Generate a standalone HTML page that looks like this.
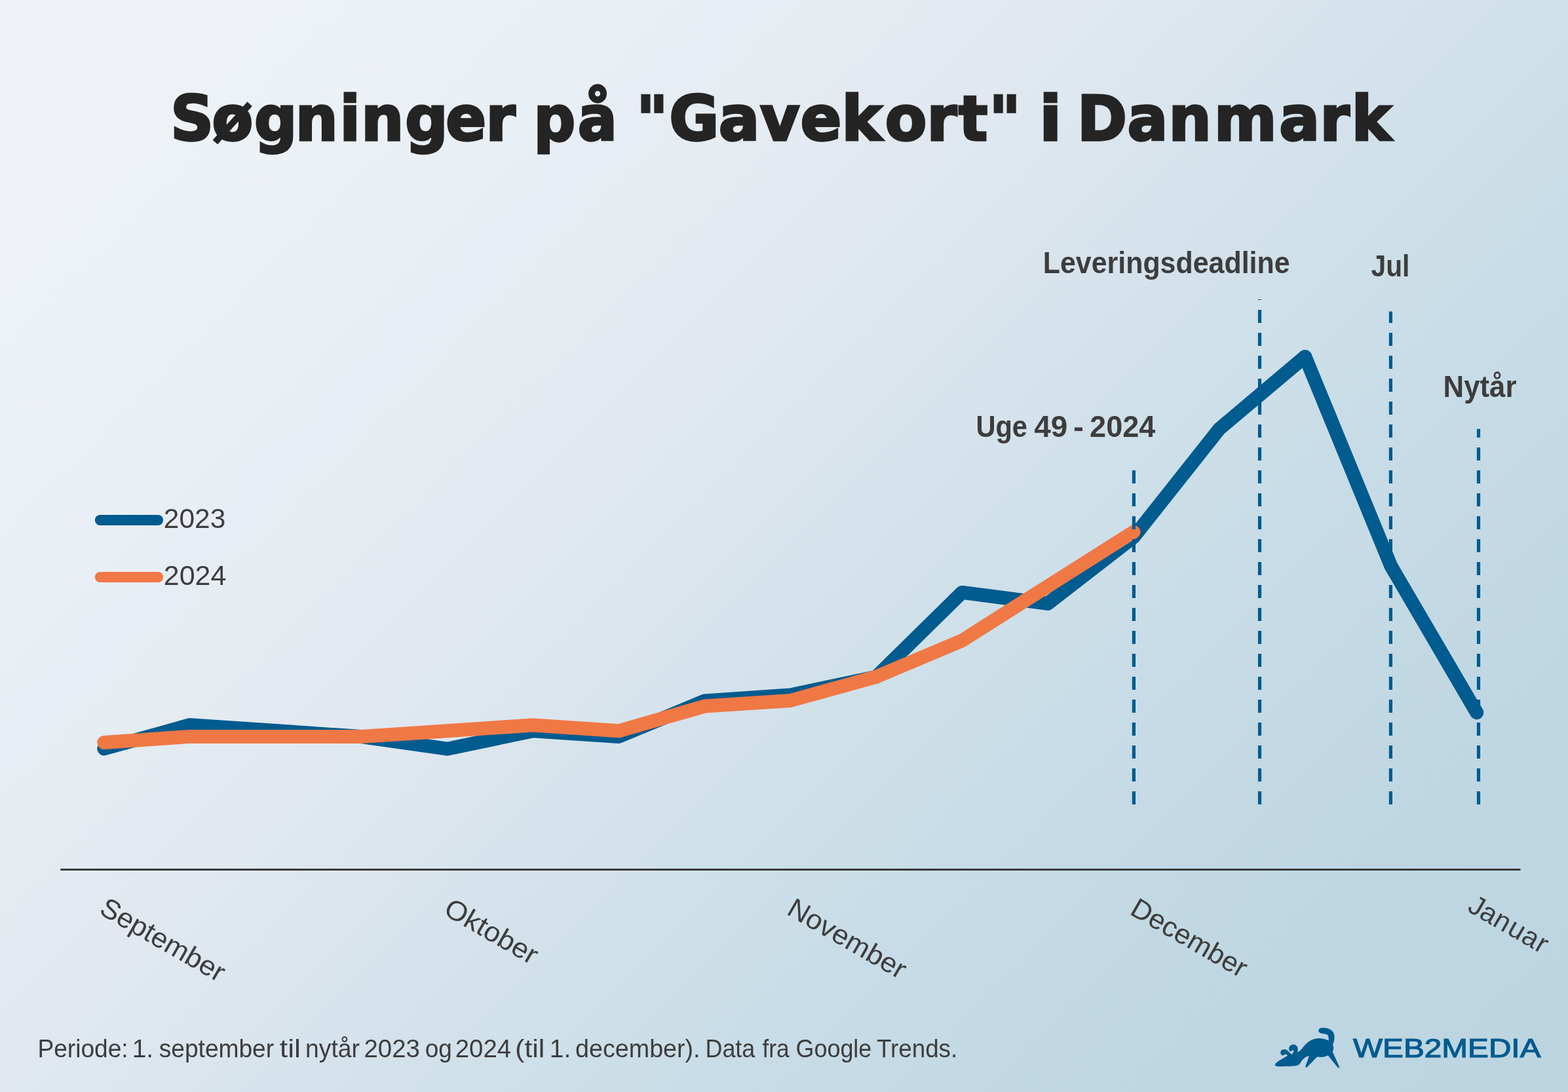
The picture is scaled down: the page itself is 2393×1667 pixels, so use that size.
<!DOCTYPE html>
<html lang="da">
<head>
<meta charset="utf-8">
<title>Søgninger på "Gavekort" i Danmark</title>
<style>
html,body{margin:0;padding:0;background:#d9e5ed;}
html{width:2393px;height:1667px;}
body{width:2393px;height:1667px;font-family:"Liberation Sans",sans-serif;}
svg{display:block;}
</style>
</head>
<body>
<svg width="2393" height="1667" viewBox="0 0 2393 1667" role="img" aria-label="Søgninger på Gavekort i Danmark">
<defs>
<linearGradient id="bg" gradientUnits="userSpaceOnUse" x1="0" y1="0" x2="2030" y2="2030">
<stop offset="0.00" stop-color="rgb(239,243,248)"/>
<stop offset="0.04" stop-color="rgb(239,243,248)"/>
<stop offset="0.08" stop-color="rgb(238,242,248)"/>
<stop offset="0.12" stop-color="rgb(237,242,247)"/>
<stop offset="0.16" stop-color="rgb(236,241,246)"/>
<stop offset="0.20" stop-color="rgb(234,240,246)"/>
<stop offset="0.24" stop-color="rgb(232,239,245)"/>
<stop offset="0.28" stop-color="rgb(231,237,244)"/>
<stop offset="0.32" stop-color="rgb(229,236,242)"/>
<stop offset="0.36" stop-color="rgb(227,234,241)"/>
<stop offset="0.40" stop-color="rgb(225,232,240)"/>
<stop offset="0.44" stop-color="rgb(222,231,239)"/>
<stop offset="0.48" stop-color="rgb(218,229,237)"/>
<stop offset="0.52" stop-color="rgb(214,227,236)"/>
<stop offset="0.56" stop-color="rgb(210,225,234)"/>
<stop offset="0.60" stop-color="rgb(206,224,233)"/>
<stop offset="0.64" stop-color="rgb(203,222,232)"/>
<stop offset="0.68" stop-color="rgb(200,220,231)"/>
<stop offset="0.72" stop-color="rgb(198,219,229)"/>
<stop offset="0.76" stop-color="rgb(195,217,228)"/>
<stop offset="0.80" stop-color="rgb(193,216,227)"/>
<stop offset="0.84" stop-color="rgb(191,215,227)"/>
<stop offset="0.88" stop-color="rgb(190,214,226)"/>
<stop offset="0.92" stop-color="rgb(189,214,225)"/>
<stop offset="0.96" stop-color="rgb(188,213,225)"/>
<stop offset="1.00" stop-color="rgb(188,213,225)"/>
</linearGradient>
</defs>
<rect width="2393" height="1667" fill="url(#bg)"/>
<!-- title -->
<g font-family="'DejaVu Sans', 'Liberation Sans', sans-serif" font-size="93.6" font-weight="bold" fill="#242424" stroke="#242424" stroke-width="3.4" stroke-linejoin="miter" stroke-miterlimit="3"><text transform="translate(0 213.90) scale(0.9758 1)" x="266.71 331.55 397.71 462.01 531.47 565.06 633.47 697.06 759.85" y="0">Søgninger</text>
<text transform="translate(0 213.90) scale(0.9498 1)" x="857.46 928.28" y="0">på</text>
<text transform="translate(0 213.90) scale(0.9902 1)" x="980.75 1031.45 1107.74 1171.50 1233.50 1297.26 1364.19 1428.55 1477.40 1524.54" y="0">&quot;Gavekort&quot;</text>
<text transform="translate(0 213.90) scale(1.0562 1)" x="1501.75" y="0">i</text>
<text transform="translate(0 213.90) scale(0.9782 1)" x="1680.63 1758.76 1823.30 1894.39 1995.71 2059.52 2108.75" y="0">Danmark</text></g>
<!-- annotation labels -->
<text y="417.4" font-family="'Liberation Sans', sans-serif" font-size="46.8" font-weight="bold" fill="#3d3d3d"><tspan x="1591.71" textLength="376.93" lengthAdjust="spacingAndGlyphs">Leveringsdeadline</tspan></text>
<text y="422.4" font-family="'Liberation Sans', sans-serif" font-size="45.5" font-weight="bold" fill="#3d3d3d"><tspan x="2092.59" textLength="58.86" lengthAdjust="spacingAndGlyphs">Jul</tspan></text>
<text y="606.3" font-family="'Liberation Sans', sans-serif" font-size="45.5" font-weight="bold" fill="#3d3d3d"><tspan x="2202.56" textLength="111.87" lengthAdjust="spacingAndGlyphs">Nytår</tspan></text>
<text y="666.9" font-family="'Liberation Sans', sans-serif" font-size="45.8" font-weight="bold" fill="#3d3d3d"><tspan x="1489.4" textLength="78.62" lengthAdjust="spacingAndGlyphs">Uge</tspan> <tspan x="1578.31" textLength="51.0" lengthAdjust="spacingAndGlyphs">49</tspan> <tspan x="1638.09" textLength="15.93" lengthAdjust="spacingAndGlyphs">-</tspan> <tspan x="1663.12" textLength="100.18" lengthAdjust="spacingAndGlyphs">2024</tspan></text>
<!-- data series: 2023 (blue) and 2024 (orange) -->
<polyline points="158.8,1143.0 289.7,1106.7 420.7,1115.6 551.6,1124.5 682.5,1143.2 813.5,1115.8 944.4,1124.4 1075.3,1070.0 1206.2,1061.0 1337.2,1033.2 1468.1,904.4 1599.0,921.4 1730.0,820.0 1860.9,654.7 1991.8,544.4 2122.8,864.0 2253.7,1087.9" fill="none" stroke="#005b8f" stroke-width="21" stroke-linecap="round" stroke-linejoin="round"/>
<polyline points="158.8,1133.5 289.7,1124.4 420.7,1124.4 551.6,1124.4 682.5,1115.7 813.5,1106.9 944.4,1115.8 1075.3,1078.1 1206.2,1069.5 1337.2,1033.2 1468.1,978.0 1599.0,895.0 1730.0,812.0" fill="none" stroke="#f07845" stroke-width="21" stroke-linecap="round" stroke-linejoin="round"/>
<!-- dashed event markers -->
<g fill="none"><line x1="1730.4" y1="1228.0" x2="1730.4" y2="717.7" stroke="#005b8f" stroke-width="5.2" stroke-dasharray="20 15"/><line x1="1922.5" y1="1228.0" x2="1922.5" y2="457.0" stroke="#005b8f" stroke-width="5.2" stroke-dasharray="20 15"/><line x1="2122.4" y1="1228.0" x2="2122.4" y2="475.4" stroke="#005b8f" stroke-width="5.2" stroke-dasharray="20 15"/><line x1="2256.5" y1="1228.0" x2="2256.5" y2="654.7" stroke="#005b8f" stroke-width="5.2" stroke-dasharray="20 15"/></g>
<!-- legend -->
<line x1="152.9" y1="794" x2="241" y2="794" stroke="#005b8f" stroke-width="16.2" stroke-linecap="round"/>
<line x1="152.9" y1="881" x2="241" y2="881" stroke="#f07845" stroke-width="16.2" stroke-linecap="round"/>
<text y="806.4" font-family="'Liberation Sans', sans-serif" font-size="42.0" font-weight="normal" fill="#3d3d3d"><tspan x="249.88" textLength="94.42" lengthAdjust="spacingAndGlyphs">2023</tspan></text>
<text y="893.1" font-family="'Liberation Sans', sans-serif" font-size="42.0" font-weight="normal" fill="#3d3d3d"><tspan x="249.85" textLength="95.52" lengthAdjust="spacingAndGlyphs">2024</tspan></text>
<!-- x axis -->
<rect x="92.2" y="1326" width="2228.3" height="3" fill="#3a3a3a"/>
<text transform="translate(149.4 1393.7) rotate(30)" font-family="'Liberation Sans', sans-serif" font-size="42.2" fill="#3d3d3d" textLength="212.6" lengthAdjust="spacingAndGlyphs">September</text>
<text transform="translate(675.02 1394.8) rotate(30)" font-family="'Liberation Sans', sans-serif" font-size="42.2" fill="#3d3d3d" textLength="157.1" lengthAdjust="spacingAndGlyphs">Oktober</text>
<text transform="translate(1198.74 1394.8) rotate(30)" font-family="'Liberation Sans', sans-serif" font-size="42.2" fill="#3d3d3d" textLength="201.3" lengthAdjust="spacingAndGlyphs">November</text>
<text transform="translate(1722.46 1394.8) rotate(30)" font-family="'Liberation Sans', sans-serif" font-size="42.2" fill="#3d3d3d" textLength="197.4" lengthAdjust="spacingAndGlyphs">December</text>
<text transform="translate(2246.18 1394.8) rotate(30) scale(1.0 1)" x="-9.74 10.66 34.81 60.11 84.26 109.17" y="0" font-family="'Liberation Sans', sans-serif" font-size="42.2" fill="#3d3d3d">Januar</text>
<!-- footnote -->
<text y="1613.6" font-family="'Liberation Sans', sans-serif" font-size="38.5" font-weight="normal" fill="#3d3d3d"><tspan x="57.43" textLength="138.19" lengthAdjust="spacingAndGlyphs">Periode:</tspan> <tspan x="201.68" textLength="32.49" lengthAdjust="spacingAndGlyphs">1.</tspan> <tspan x="242.69" textLength="175.46" lengthAdjust="spacingAndGlyphs">september</tspan> <tspan x="426.83" textLength="32.16" lengthAdjust="spacingAndGlyphs">til</tspan> <tspan x="466.08" textLength="82.8" lengthAdjust="spacingAndGlyphs">nytår</tspan> <tspan x="555.48" textLength="85.43" lengthAdjust="spacingAndGlyphs">2023</tspan> <tspan x="648.72" textLength="41.08" lengthAdjust="spacingAndGlyphs">og</tspan> <tspan x="694.78" textLength="85.35" lengthAdjust="spacingAndGlyphs">2024</tspan> <tspan x="786.13" textLength="45.27" lengthAdjust="spacingAndGlyphs">(til</tspan> <tspan x="838.78" textLength="32.49" lengthAdjust="spacingAndGlyphs">1.</tspan> <tspan x="878.09" textLength="190.5" lengthAdjust="spacingAndGlyphs">december).</tspan> <tspan x="1076.42" textLength="75.96" lengthAdjust="spacingAndGlyphs">Data</tspan> <tspan x="1163.57" textLength="41.1" lengthAdjust="spacingAndGlyphs">fra</tspan> <tspan x="1214.61" textLength="115.69" lengthAdjust="spacingAndGlyphs">Google</tspan> <tspan x="1337.98" textLength="123.24" lengthAdjust="spacingAndGlyphs">Trends.</tspan></text>
<!-- logo -->
<path d="M2012.25 1573.69C2012.23 1572.98 2012.38 1571.95 2012.87 1571.24C2013.37 1570.52 2014.09 1569.80 2015.23 1569.41C2016.36 1569.02 2018.06 1568.87 2019.67 1568.89C2021.28 1568.90 2023.24 1569.12 2024.90 1569.51C2026.55 1569.90 2028.21 1570.47 2029.60 1571.24C2030.99 1572.00 2032.26 1572.98 2033.26 1574.11C2034.26 1575.24 2035.07 1576.55 2035.61 1578.03C2036.15 1579.51 2036.44 1581.21 2036.50 1583.00C2036.56 1584.78 2036.30 1587.00 2035.98 1588.75C2035.65 1590.49 2034.89 1592.45 2034.56 1593.45C2034.24 1594.45 2034.22 1594.32 2034.04 1594.76C2034.34 1595.71 2034.76 1596.72 2034.93 1597.63C2035.10 1598.55 2035.15 1599.29 2035.09 1600.24C2035.03 1601.20 2034.80 1602.51 2034.56 1603.38C2034.33 1604.25 2033.97 1604.77 2033.68 1605.47C2037.11 1613.14 2042.34 1624.46 2043.97 1628.47C2045.60 1632.47 2043.75 1629.31 2043.45 1629.51C2043.14 1629.71 2042.53 1629.77 2042.14 1629.67C2041.75 1629.56 2043.69 1632.00 2041.10 1628.89C2038.50 1625.77 2031.41 1616.93 2026.57 1610.96C2025.66 1611.39 2025.00 1611.86 2023.85 1612.26C2022.70 1612.67 2021.15 1613.17 2019.67 1613.41C2018.19 1613.66 2016.53 1613.76 2014.97 1613.73C2013.40 1613.69 2011.83 1613.38 2010.26 1613.21C2005.12 1618.43 1997.63 1626.21 1994.84 1628.89C1992.06 1631.56 1993.91 1629.32 1993.54 1629.25C1993.16 1629.18 1992.77 1628.73 1992.60 1628.47C1992.42 1628.21 1991.59 1630.43 1992.49 1627.68C1993.39 1624.94 1996.15 1617.23 1997.98 1612.00C1996.67 1612.35 1995.32 1612.48 1994.06 1613.05C1992.80 1613.61 1991.53 1614.53 1990.40 1615.40C1989.27 1616.27 1988.09 1617.32 1987.26 1618.28C1986.44 1619.23 1986.05 1620.19 1985.44 1621.15C1984.83 1622.11 1984.35 1623.22 1983.61 1624.02C1982.87 1624.83 1982.04 1625.46 1980.99 1625.96C1979.95 1626.45 1978.90 1626.74 1977.33 1627.00C1975.77 1627.26 1973.85 1627.39 1971.59 1627.53C1969.32 1627.67 1966.36 1627.74 1963.75 1627.84C1961.13 1627.94 1958.17 1628.08 1955.91 1628.10C1953.64 1628.12 1951.64 1628.10 1950.16 1627.94C1948.68 1627.79 1947.74 1627.55 1947.02 1627.16C1946.31 1626.77 1945.94 1626.20 1945.87 1625.59C1945.80 1624.98 1945.98 1624.29 1946.60 1623.50C1947.23 1622.72 1948.26 1621.89 1949.63 1620.89C1951.01 1619.89 1953.12 1618.56 1954.86 1617.49C1956.60 1616.42 1958.39 1615.40 1960.09 1614.46C1961.79 1613.52 1963.40 1612.72 1965.05 1611.85C1964.70 1611.29 1964.49 1610.63 1964.01 1610.17C1963.53 1609.72 1962.74 1609.22 1962.18 1609.13C1961.61 1609.04 1961.09 1609.37 1960.61 1609.65C1960.13 1609.93 1959.83 1610.54 1959.30 1610.80C1958.78 1611.06 1958.13 1611.37 1957.47 1611.22C1956.82 1611.07 1955.92 1610.57 1955.38 1609.91C1954.84 1609.26 1954.32 1608.21 1954.23 1607.30C1954.15 1606.39 1954.41 1605.21 1954.86 1604.43C1955.31 1603.64 1956.12 1603.01 1956.95 1602.60C1957.78 1602.19 1958.82 1601.99 1959.83 1601.97C1960.83 1601.94 1962.00 1602.07 1962.96 1602.44C1963.92 1602.80 1964.75 1603.47 1965.57 1604.16C1966.40 1604.86 1967.23 1605.90 1967.93 1606.62C1968.62 1607.34 1969.15 1608.08 1969.76 1608.50C1970.37 1608.92 1971.02 1609.24 1971.59 1609.13C1972.15 1609.02 1972.74 1608.48 1973.15 1607.82C1973.57 1607.17 1973.99 1605.97 1974.09 1605.21C1974.20 1604.45 1974.01 1603.62 1973.78 1603.28C1973.55 1602.93 1973.10 1602.97 1972.74 1603.12C1972.37 1603.27 1972.04 1603.88 1971.59 1604.16C1971.13 1604.45 1970.58 1604.89 1970.02 1604.84C1969.45 1604.80 1968.68 1604.45 1968.19 1603.90C1967.69 1603.35 1967.15 1602.42 1967.04 1601.55C1966.93 1600.68 1967.14 1599.55 1967.51 1598.68C1967.87 1597.80 1968.55 1596.95 1969.23 1596.32C1969.91 1595.70 1970.71 1595.22 1971.59 1594.91C1972.46 1594.61 1973.50 1594.43 1974.46 1594.49C1975.42 1594.56 1976.51 1594.80 1977.33 1595.28C1978.16 1595.76 1978.90 1596.54 1979.43 1597.37C1979.95 1598.20 1980.26 1599.24 1980.47 1600.24C1980.68 1601.25 1980.70 1602.38 1980.68 1603.38C1980.66 1604.38 1980.47 1605.30 1980.37 1606.25C1981.27 1605.78 1982.15 1605.58 1983.08 1604.84C1984.02 1604.10 1984.91 1603.01 1985.96 1601.81C1987.00 1600.61 1988.18 1598.98 1989.36 1597.63C1990.53 1596.28 1991.71 1594.95 1993.01 1593.71C1994.32 1592.47 1995.71 1591.25 1997.20 1590.21C1998.68 1589.16 2000.24 1588.19 2001.90 1587.44C2003.55 1586.69 2005.38 1586.11 2007.13 1585.71C2008.87 1585.32 2010.61 1585.14 2012.35 1585.09C2014.09 1585.03 2015.84 1585.16 2017.58 1585.40C2019.32 1585.64 2021.11 1586.04 2022.80 1586.55C2024.50 1587.06 2026.11 1587.84 2027.77 1588.48C2027.72 1587.18 2027.79 1585.78 2027.61 1584.56C2027.44 1583.34 2027.18 1582.06 2026.72 1581.17C2026.27 1580.28 2025.72 1579.70 2024.90 1579.23C2024.07 1578.77 2022.89 1578.62 2021.76 1578.40C2020.63 1578.17 2019.23 1578.11 2018.10 1577.87C2016.97 1577.64 2015.82 1577.38 2014.97 1576.99C2014.11 1576.59 2013.43 1576.07 2012.98 1575.52C2012.53 1574.97 2012.26 1574.41 2012.25 1573.69Z" fill="#005b8f"/>
<text y="1614.1" font-family="'Liberation Sans', sans-serif" font-size="40.9" font-weight="normal" fill="#005b8f" stroke="#005b8f" stroke-width="1.2"><tspan x="2065.06" textLength="286.43" lengthAdjust="spacingAndGlyphs">WEB2MEDIA</tspan></text>
</svg>
</body>
</html>
